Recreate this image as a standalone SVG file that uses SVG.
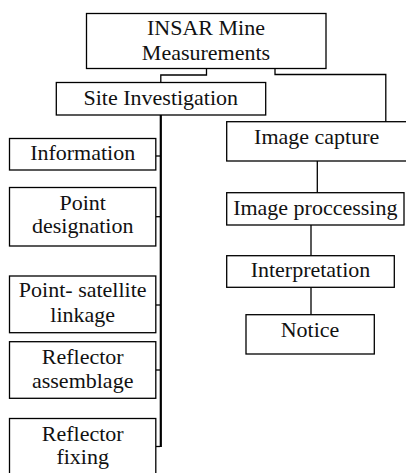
<svg xmlns="http://www.w3.org/2000/svg" width="406" height="473" viewBox="0 0 406 473">
<style>
.box{fill:#fff;stroke:#000;stroke-width:1.3}
.t{font-family:'Liberation Serif','Times New Roman',Times,serif;font-size:22px;fill:#111;text-anchor:middle}
.c{fill:none;stroke:#000;stroke-width:1.3}
.ct{fill:none;stroke:#000;stroke-width:2.2}
</style>
<rect width="406" height="473" fill="#fff"/>
<g id="connectors">
<polyline class="c" points="206.5,68 206.5,75 160.8,75 160.8,82"/>
<polyline class="c" points="275,68 275,74.5 385.8,74.5 385.8,122"/>
<line class="ct" x1="160.8" y1="115" x2="160.8" y2="447"/>
<line class="c" x1="156" y1="156" x2="160" y2="156"/>
<line class="c" x1="156" y1="216.7" x2="160" y2="216.7"/>
<line class="c" x1="156" y1="305" x2="160" y2="305"/>
<line class="c" x1="156" y1="370" x2="160" y2="370"/>
<line class="c" x1="156" y1="446.5" x2="160" y2="446.5"/>
<line class="c" x1="317.3" y1="161" x2="317.3" y2="192.7"/>
<line class="c" x1="311" y1="225" x2="311" y2="255.7"/>
<line class="c" x1="311" y1="287.3" x2="311" y2="314.7"/>
</g>
<g id="insar">
<rect class="box" x="86.5" y="13.5" width="239.5" height="55"/>
<text class="t" x="206" y="34.5" font-family="Liberation Serif, serif">INSAR Mine</text>
<text class="t" x="206" y="59.5" font-family="Liberation Serif, serif">Measurements</text>
</g>
<g id="site">
<rect class="box" x="56.3" y="82.5" width="209.4" height="32.5"/>
<text class="t" x="160.8" y="104.5">Site Investigation</text>
</g>
<g id="information">
<rect class="box" x="9.5" y="138.5" width="146.3" height="31.5"/>
<text class="t" x="82.7" y="160">Information</text>
</g>
<g id="point">
<rect class="box" x="9.5" y="187.5" width="146.3" height="58.5"/>
<text class="t" x="82.7" y="209.5">Point</text>
<text class="t" x="82.7" y="233">designation</text>
</g>
<g id="linkage">
<rect class="box" x="9.5" y="276" width="146.3" height="56.7"/>
<text class="t" x="82.7" y="297">Point- satellite</text>
<text class="t" x="82.7" y="321.7">linkage</text>
</g>
<g id="assemblage">
<rect class="box" x="9.5" y="341.7" width="146.3" height="56.6"/>
<text class="t" x="82.7" y="363.5">Reflector</text>
<text class="t" x="82.7" y="387.5">assemblage</text>
</g>
<g id="fixing">
<rect class="box" x="9.5" y="418.5" width="146.3" height="60"/>
<text class="t" x="82.7" y="440.5">Reflector</text>
<text class="t" x="82.7" y="464">fixing</text>
</g>
<g id="capture">
<rect class="box" x="226.7" y="121.7" width="185" height="39.3"/>
<text class="t" x="316.7" y="143.5">Image capture</text>
</g>
<g id="processing">
<rect class="box" x="226.7" y="192.7" width="177.3" height="32.3"/>
<text class="t" x="315.3" y="215">Image proccessing</text>
</g>
<g id="interpretation">
<rect class="box" x="226.7" y="255.7" width="167.6" height="31.6"/>
<text class="t" x="310.5" y="277">Interpretation</text>
</g>
<g id="notice">
<rect class="box" x="246" y="314.7" width="128.3" height="39.3"/>
<text class="t" x="310" y="336.5">Notice</text>
</g>
</svg>
